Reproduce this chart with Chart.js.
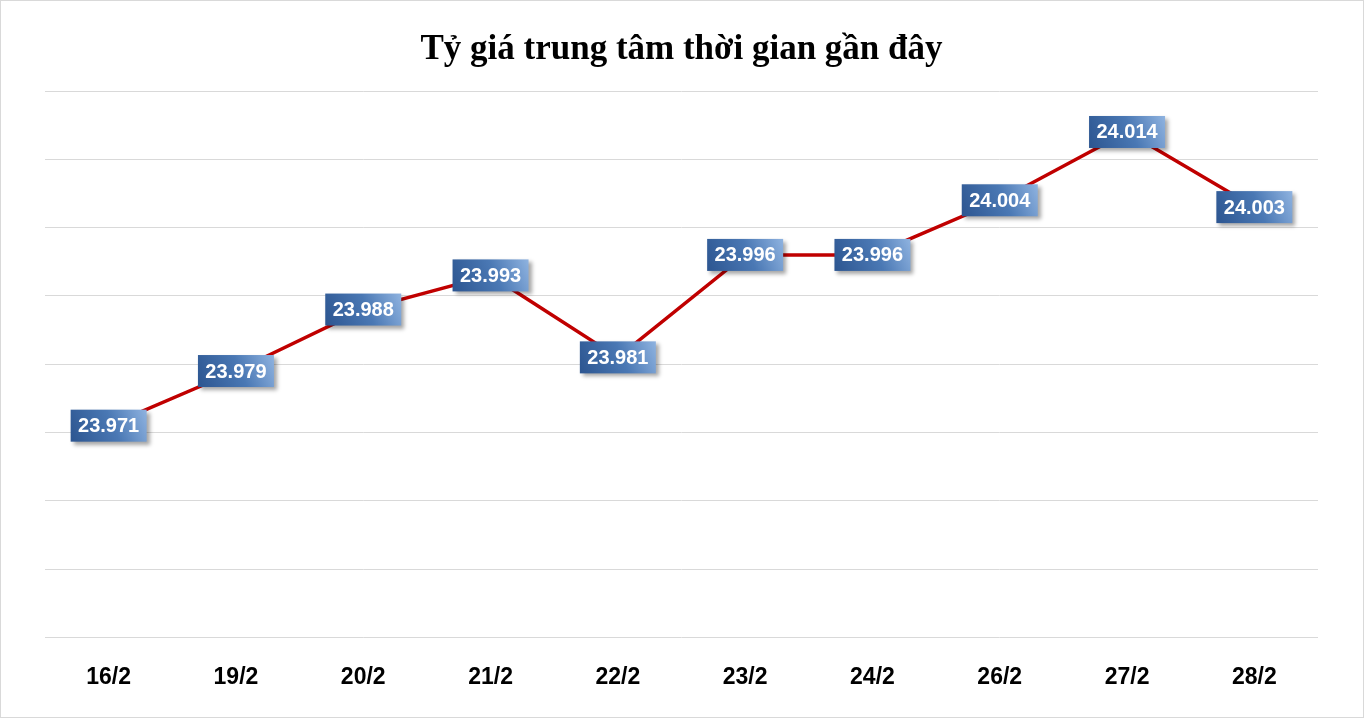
<!DOCTYPE html>
<html><head><meta charset="utf-8">
<script src="https://cdn.jsdelivr.net/npm/chart.js@4"></script>
<style>html,body{margin:0;padding:0;background:#fff}#w{position:absolute;left:0;top:0;width:1362px;height:716px;border:1px solid #d9d9d9}</style>
</head><body><div id="w"><canvas id="c"></canvas></div>
<script>
const categories = ["16/2","19/2","20/2","21/2","22/2","23/2","24/2","26/2","27/2","28/2"];
const rates = [23.971,23.979,23.988,23.993,23.981,23.996,23.996,24.004,24.014,24.003];
const yMin = 23.94, yMax = 24.02, yStep = 0.01;
const title = "Tỷ giá trung tâm thời gian gần đây";

const labelPlugin = {
  id:'boxLabels',
  afterDatasetsDraw(chart){
    const ctx = chart.ctx;
    const meta = chart.getDatasetMeta(0);
    ctx.save();
    ctx.font = 'bold 20px "Liberation Sans", Arial, sans-serif';
    meta.data.forEach((p,i)=>{
      const txt = rates[i].toFixed(3);
      const w = 76, h = 32, x = p.x - w/2, y = p.y - h/2;
      ctx.shadowColor='rgba(0,0,0,0.35)'; ctx.shadowBlur=4; ctx.shadowOffsetX=3; ctx.shadowOffsetY=3;
      const g = ctx.createLinearGradient(x, y+h, x+w, y);
      g.addColorStop(0,'#2c5590'); g.addColorStop(0.55,'#4a78b4'); g.addColorStop(1,'#8fb3e0');
      ctx.fillStyle=g; ctx.fillRect(x,y,w,h);
      ctx.shadowColor='transparent';
      ctx.fillStyle='#fff'; ctx.textAlign='center'; ctx.textBaseline='middle';
      ctx.fillText(txt, p.x, p.y+1);
    });
    ctx.restore();
  }
};

new Chart(document.getElementById('c'),{
  type:'line',
  data:{labels:categories,datasets:[{data:rates,borderColor:'#c00000',borderWidth:3.5,pointRadius:0,tension:0}]},
  options:{
    responsive:true,maintainAspectRatio:false,animation:false,
    layout:{padding:{left:44,right:45,top:10,bottom:8}},
    plugins:{legend:{display:false},tooltip:{enabled:false},
      title:{display:true,text:title,color:'#000',font:{family:'"Liberation Serif", serif',size:35,weight:'bold'},padding:{top:18,bottom:20}}},
    scales:{
      x:{offset:true,grid:{display:false},border:{display:false},
         ticks:{color:'#000',font:{family:'"Liberation Sans", Arial',size:23,weight:'bold'},padding:18}},
      y:{min:yMin,max:yMax,ticks:{display:false,stepSize:yStep},
         grid:{color:'#d9d9d9',drawTicks:false,lineWidth:1},border:{display:false}}
    }
  },
  plugins:[labelPlugin]
});
</script></body></html>
